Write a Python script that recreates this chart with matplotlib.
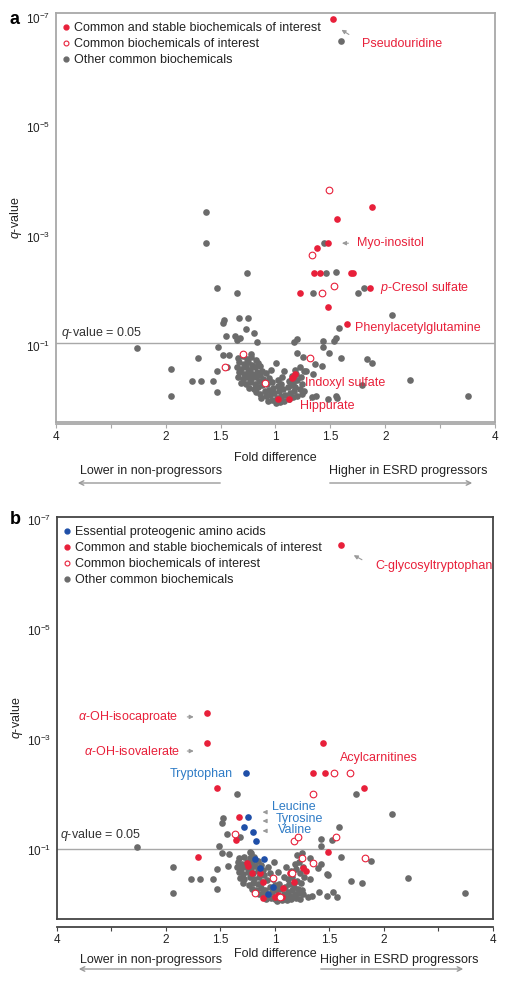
import matplotlib
matplotlib.use("Agg")
import matplotlib.pyplot as plt
from matplotlib.lines import Line2D

plt.rcParams['font.family'] = ['Liberation Sans', 'DejaVu Sans']
plt.rcParams['mathtext.fontset'] = 'custom'
plt.rcParams['mathtext.rm'] = 'Liberation Sans'
plt.rcParams['mathtext.it'] = 'Liberation Sans:italic'

# --------------------------------------------------
# DATA  (x = log2 fold difference, y = -log10 q-value)
# --------------------------------------------------

x_ticks = [-2, -1.5, -1, -0.5, 0, 0.5, 1, 1.5, 2]
x_ticklabels = ['4', '', '2', '1.5', '1', '1.5', '2', '', '4']
y_ticks = [1, 3, 5, 7]
y_ticklabels = [r'$10^{-1}$', r'$10^{-3}$', r'$10^{-5}$', r'$10^{-7}$']

# panel a
a_red_x = [0.52, 0.88, 0.56, 0.48, 0.38, 0.35, 0.41, 0.69, 0.71, 0.22, 0.86, 0.48, 0.65, 0.16, 0.18, 0.15, 0.02, 0.12]
a_red_y = [6.98, 3.54, 3.32, 2.88, 2.79, 2.33, 2.33, 2.33, 2.33, 1.97, 2.06, 1.71, 1.40, 0.43, 0.49, 0.41, 0.03, 0.03]

a_open_x = [0.49, 0.33, 0.53, 0.42, -0.30, 0.31, -0.46, -0.10]
a_open_y = [3.85, 2.66, 2.10, 1.97, 0.85, 0.78, 0.62, 0.32]

a_gray = [
    (0.60, 6.58), (-0.63, 3.45), (-0.63, 2.88), (0.44, 2.88), (-0.26, 2.33), (0.46, 2.33),
    (0.55, 2.35), (-0.53, 2.06), (-0.35, 1.97), (0.34, 1.97), (0.81, 2.06), (0.75, 1.97),
    (1.06, 1.57), (0.58, 1.33),
    (-0.33, 1.51), (-0.25, 1.51), (-0.47, 1.48), (-0.48, 1.42), (-0.27, 1.31), (-0.20, 1.24),
    (-0.45, 1.18), (-0.37, 1.18), (-0.35, 1.11), (-0.32, 1.15), (-0.17, 1.07),
    (0.20, 1.13), (0.17, 1.07), (0.43, 1.09), (0.55, 1.15), (0.53, 1.09),
    (-0.52, 0.98), (-0.71, 0.78), (-0.48, 0.84), (-0.42, 0.84), (-0.22, 0.85), (-0.95, 0.58),
    (-0.53, 0.54), (-0.44, 0.62), (-0.76, 0.36), (-0.68, 0.36), (-0.57, 0.36), (-0.53, 0.16),
    (-0.95, 0.09), (-1.26, 0.96),
    (0.20, 0.87), (0.25, 0.80), (0.43, 0.98), (0.49, 0.87), (0.60, 0.78), (0.36, 0.67),
    (0.08, 0.54), (0.28, 0.54), (0.34, 0.49), (0.56, 0.05), (0.48, 0.03), (0.42, 0.63),
    (0.83, 0.76), (0.88, 0.69), (1.23, 0.38), (1.75, 0.09), (0.79, 0.29), (0.55, 0.09),
    (0.37, 0.09), (0.33, 0.07), (0.00, 0.69),
]

a_cluster = [
    (-0.34, 0.78), (-0.30, 0.81), (-0.26, 0.77), (-0.22, 0.80), (-0.18, 0.74),
    (-0.33, 0.70), (-0.29, 0.67), (-0.25, 0.71), (-0.21, 0.66), (-0.16, 0.69),
    (-0.35, 0.61), (-0.31, 0.58), (-0.27, 0.62), (-0.23, 0.57), (-0.19, 0.61), (-0.14, 0.63),
    (-0.33, 0.52), (-0.29, 0.49), (-0.25, 0.53), (-0.21, 0.48), (-0.17, 0.52), (-0.12, 0.55),
    (-0.34, 0.44), (-0.30, 0.40), (-0.26, 0.44), (-0.22, 0.40), (-0.18, 0.44), (-0.14, 0.47), (-0.09, 0.50),
    (-0.31, 0.33), (-0.27, 0.30), (-0.23, 0.34), (-0.19, 0.31), (-0.15, 0.36), (-0.11, 0.39), (-0.06, 0.42),
    (-0.24, 0.24), (-0.20, 0.21), (-0.16, 0.25), (-0.12, 0.28), (-0.08, 0.31), (-0.03, 0.34),
    (-0.18, 0.15), (-0.14, 0.12), (-0.10, 0.17), (-0.06, 0.20), (-0.02, 0.24), (0.02, 0.27),
    (-0.13, 0.05), (-0.09, 0.08), (-0.05, 0.11), (-0.01, 0.14), (0.03, 0.17), (0.07, 0.21), (0.11, 0.25),
    (-0.07, -0.01), (-0.03, 0.02), (0.01, 0.05), (0.05, 0.08), (0.09, 0.11), (0.13, 0.14), (0.17, 0.18),
    (0.00, -0.04), (0.04, -0.02), (0.08, 0.00), (0.12, 0.03), (0.16, 0.06), (0.20, 0.09), (0.24, 0.12),
    (0.14, 0.29), (0.18, 0.25), (0.22, 0.21), (0.26, 0.17),
    (0.12, 0.36), (0.16, 0.33), (0.20, 0.38), (0.24, 0.30),
    (0.15, 0.45), (0.19, 0.49), (0.23, 0.43),
    (0.18, 0.57), (0.22, 0.61), (0.26, 0.55),
    (0.02, 0.38), (0.06, 0.44), (-0.04, 0.56), (0.05, 0.31),
]

# panel b
b_red_x = [0.61, -0.62, -0.62, 0.44, 0.35, 0.46, -0.53, 0.82, -0.33, -0.36, 0.49, -0.71,
           -0.26, -0.25, -0.21, -0.11, -0.14, 0.07, 0.03, -0.11, 0.14, 0.17, 0.26, 0.28, 0.00, 0.06]
b_red_y = [6.55, 3.49, 2.95, 2.95, 2.40, 2.40, 2.13, 2.13, 1.60, 1.18, 0.96, 0.87,
           0.76, 0.71, 0.58, 0.42, 0.58, 0.31, 0.18, 0.13, 0.58, 0.42, 0.67, 0.62, 0.15, 0.15]

b_open_x = [0.54, 0.69, 0.35, -0.37, 0.17, 0.21, 0.56, 0.83, 0.25, 0.35, -0.18, -0.02, 0.16, 0.05]
b_open_y = [2.40, 2.40, 2.02, 1.29, 1.16, 1.24, 1.24, 0.85, 0.85, 0.76, 0.22, 0.49, 0.58, 0.15]

b_blue_x = [-0.27, -0.25, -0.28, -0.20, -0.17, -0.18, -0.10, -0.14, -0.02, -0.06]
b_blue_y = [2.40, 1.60, 1.42, 1.33, 1.16, 0.84, 0.84, 0.67, 0.33, 0.20]

b_gray = [
    (-1.27, 1.05), (-0.94, 0.69), (-0.94, 0.22), (-0.77, 0.47), (-0.69, 0.47), (-0.57, 0.47),
    (-0.53, 0.29), (-0.53, 0.65), (-0.43, 0.71), (-0.51, 1.07), (-0.49, 0.95), (-0.42, 0.93),
    (-0.48, 1.58), (-0.49, 1.49), (-0.44, 1.29), (-0.32, 1.24), (-0.35, 2.02), (-0.23, 0.96),
    (0.74, 2.02), (1.07, 1.65), (0.59, 1.42), (0.52, 1.18), (0.42, 1.20), (0.42, 1.07),
    (0.61, 0.87), (0.88, 0.80), (1.22, 0.49), (1.74, 0.22), (0.70, 0.44), (0.80, 0.40),
    (0.49, 0.55), (0.42, 0.75), (0.32, 0.85), (0.20, 0.91), (0.25, 0.95), (0.53, 0.24),
    (0.57, 0.15), (0.48, 0.16), (0.40, 0.24), (0.48, 0.56), (0.39, 0.67), (0.32, 0.47),
    (-0.01, 0.78), (-0.22, 0.95),
]

b_cluster = [
    (-0.33, 0.86), (-0.28, 0.88), (-0.23, 0.85), (-0.19, 0.87),
    (-0.34, 0.78), (-0.30, 0.75), (-0.26, 0.79), (-0.21, 0.76), (-0.16, 0.80),
    (-0.35, 0.69), (-0.31, 0.66), (-0.27, 0.70), (-0.22, 0.67), (-0.18, 0.71), (-0.13, 0.73),
    (-0.33, 0.60), (-0.29, 0.57), (-0.25, 0.61), (-0.20, 0.58), (-0.16, 0.62), (-0.11, 0.64),
    (-0.32, 0.50), (-0.28, 0.47), (-0.23, 0.51), (-0.19, 0.48), (-0.15, 0.52), (-0.10, 0.55), (-0.05, 0.58),
    (-0.29, 0.40), (-0.24, 0.37), (-0.20, 0.41), (-0.16, 0.38), (-0.12, 0.42), (-0.07, 0.45), (-0.02, 0.48),
    (-0.21, 0.30), (-0.17, 0.27), (-0.13, 0.31), (-0.09, 0.28), (-0.05, 0.33), (0.00, 0.36), (0.04, 0.39),
    (-0.15, 0.20), (-0.11, 0.22), (-0.07, 0.19), (-0.03, 0.24), (0.01, 0.27), (0.05, 0.30), (0.09, 0.34),
    (-0.08, 0.12), (-0.04, 0.14), (0.00, 0.11), (0.04, 0.16), (0.08, 0.20), (0.12, 0.24), (0.16, 0.28),
    (0.02, 0.08), (0.06, 0.10), (0.10, 0.13), (0.14, 0.16), (0.18, 0.20), (0.22, 0.23), (0.26, 0.21),
    (0.11, 0.09), (0.15, 0.11), (0.19, 0.14), (0.23, 0.12), (0.30, 0.15), (0.34, 0.16),
    (0.13, 0.38), (0.17, 0.34), (0.21, 0.30), (0.25, 0.27),
    (0.12, 0.47), (0.16, 0.51), (0.20, 0.44), (0.24, 0.40),
    (0.15, 0.62), (0.19, 0.66), (0.23, 0.58), (0.27, 0.52),
    (0.18, 0.74), (0.22, 0.78), (0.26, 0.70),
    (0.08, 0.52), (0.03, 0.60), (-0.06, 0.70), (0.10, 0.70),
]

# --------------------------------------------------
# STYLE
# --------------------------------------------------

RED = '#e8203a'
GRAY = '#6b6b6b'
BLUE = '#1f4fa8'
BLUE_TXT = '#2f7cc6'
ARROW = '#9a9a9a'
TXT = '#222222'
FS = 9
MS = 23

W, H = 509, 985
fig = plt.figure(figsize=(W / 100, H / 100), dpi=100)


def fx(px):
    return px / W


def fy(py):
    return 1 - py / H


def setup(ax, ylim, frame_color, offset):
    ax.set_xlim(-2, 2)
    ax.set_ylim(*ylim)
    for s in ax.spines.values():
        s.set_color(frame_color)
        s.set_linewidth(1.3)
    ax.tick_params(axis='x', bottom=False, labelbottom=False)
    ax.set_yticks(y_ticks)
    ax.set_yticklabels(y_ticklabels)
    ax.tick_params(axis='y', length=0, pad=4, labelsize=8.5, colors=TXT)
    sec = ax.secondary_xaxis(offset)
    sec.set_xticks(x_ticks)
    sec.set_xticklabels(x_ticklabels)
    sec.spines['bottom'].set_color(frame_color)
    sec.spines['bottom'].set_linewidth(1.3)
    sec.tick_params(length=3, color=frame_color, labelsize=8.5, pad=2, labelcolor=TXT)
    ax.set_ylabel(r'$q$-value', fontsize=FS, color=TXT)
    ax.yaxis.set_label_coords(-0.073, 0.5)


def scatter_groups(ax, gray, red_x, red_y, open_x, open_y):
    ax.scatter([p[0] for p in gray], [p[1] for p in gray], s=MS, color=GRAY, lw=0, zorder=2)
    ax.scatter(red_x, red_y, s=MS, color=RED, lw=0, zorder=3)
    ax.scatter(open_x, open_y, s=MS, facecolor='white', edgecolor=RED, lw=0.8, zorder=3)


def arrow(ax, x0, y0, x1, y1):
    ax.annotate('', xy=(x1, y1), xytext=(x0, y0),
                arrowprops=dict(arrowstyle='-|>', color=ARROW, lw=0.8, mutation_scale=6))


def bottom_labels(ax_cx, y_fold, y_lab, lower_cx, higher_cx, y_arr, left_arr, right_arr):
    fig.text(fx(ax_cx), fy(y_fold), 'Fold difference', ha='center', va='center', fontsize=FS, color=TXT)
    fig.text(fx(lower_cx), fy(y_lab), 'Lower in non-progressors', ha='center', va='center', fontsize=FS, color=TXT)
    fig.text(fx(higher_cx), fy(y_lab), 'Higher in ESRD progressors', ha='center', va='center', fontsize=FS, color=TXT)
    for (a, b) in [left_arr, right_arr]:
        fig.add_artist(plt.matplotlib.patches.FancyArrowPatch(
            (fx(a), fy(y_arr)), (fx(b), fy(y_arr)), transform=fig.transFigure,
            arrowstyle='->', color=ARROW, lw=1, mutation_scale=8))


# --------------------------------------------------
# PANEL A
# --------------------------------------------------

ax_a = fig.add_axes([fx(56), fy(422), fx(495) - fx(56), (422 - 13) / H])
setup(ax_a, (-0.39, 7.09), '#a8a8a8', -0.006)
ax_a.axhline(1.05, color='#a8a8a8', lw=1, zorder=1)
scatter_groups(ax_a, a_gray + a_cluster, a_red_x, a_red_y, a_open_x, a_open_y)

handles = [Line2D([], [], marker='o', ls='', ms=3.5, color=RED, mec=RED),
           Line2D([], [], marker='o', ls='', ms=3.5, mfc='white', mec=RED, mew=0.8),
           Line2D([], [], marker='o', ls='', ms=3.5, color=GRAY, mec=GRAY)]
labels = ['Common and stable biochemicals of interest', 'Common biochemicals of interest',
          'Other common biochemicals']
ax_a.legend(handles, labels, loc='upper left', bbox_to_anchor=(0.016, 0.977), frameon=False,
            handlelength=0.5, handletextpad=0.35, labelspacing=0.32, fontsize=FS,
            borderaxespad=0, borderpad=0, labelcolor=TXT)

ax_a.text(-1.95, 1.24, r'$q$-value = 0.05', fontsize=FS, color='#333333', va='center')
ax_a.text(0.79, 6.52, 'Pseudouridine', fontsize=FS, color=RED, va='center')
arrow(ax_a, 0.69, 6.67, 0.58, 6.81)
ax_a.text(0.74, 2.88, 'Myo-inositol', fontsize=FS, color=RED, va='center')
arrow(ax_a, 0.69, 2.88, 0.58, 2.88)
ax_a.text(0.95, 2.06, r'$p$-Cresol sulfate', fontsize=FS, color=RED, va='center')
ax_a.text(0.72, 1.33, 'Phenylacetylglutamine', fontsize=FS, color=RED, va='center')
ax_a.text(0.27, 0.32, 'Indoxyl sulfate', fontsize=FS, color=RED, va='center', zorder=4)
ax_a.text(0.22, -0.10, 'Hippurate', fontsize=FS, color=RED, va='center', zorder=4)

fig.text(fx(15), fy(20), 'a', fontsize=13, fontweight='bold', ha='center', va='center')
bottom_labels(275, 458, 471, 151, 408, 483, (223, 75), (327, 475))

# --------------------------------------------------
# PANEL B
# --------------------------------------------------

ax_b = fig.add_axes([fx(57), fy(919), fx(493) - fx(57), (919 - 517) / H])
setup(ax_b, (-0.25, 7.05), '#444444', -0.02)
ax_b.axhline(1.02, color='#a8a8a8', lw=1, zorder=1)
scatter_groups(ax_b, b_gray + b_cluster, b_red_x, b_red_y, b_open_x, b_open_y)
ax_b.scatter(b_blue_x, b_blue_y, s=MS, color=BLUE, lw=0, zorder=4)

handles_b = [Line2D([], [], marker='o', ls='', ms=3.5, color=BLUE, mec=BLUE)] + handles
labels_b = ['Essential proteogenic amino acids'] + labels
ax_b.legend(handles_b, labels_b, loc='upper left', bbox_to_anchor=(0.016, 0.977), frameon=False,
            handlelength=0.5, handletextpad=0.35, labelspacing=0.32, fontsize=FS,
            borderaxespad=0, borderpad=0, labelcolor=TXT)

ax_b.text(-1.97, 1.27, r'$q$-value = 0.05', fontsize=FS, color='#333333', va='center')
ax_b.text(0.92, 6.16, 'C-glycosyltryptophan', fontsize=FS, color=RED, va='center')
arrow(ax_b, 0.82, 6.25, 0.70, 6.38)
ax_b.text(-0.89, 3.42, r'$\alpha$-OH-isocaproate', fontsize=FS, color=RED, va='center', ha='right')
arrow(ax_b, -0.83, 3.42, -0.72, 3.42)
ax_b.text(-0.87, 2.80, r'$\alpha$-OH-isovalerate', fontsize=FS, color=RED, va='center', ha='right')
arrow(ax_b, -0.83, 2.80, -0.72, 2.80)
ax_b.text(0.60, 2.67, 'Acylcarnitines', fontsize=FS, color=RED, va='center')
ax_b.text(-0.39, 2.38, 'Tryptophan', fontsize=FS, color=BLUE_TXT, va='center', ha='right')
ax_b.text(-0.03, 1.78, 'Leucine', fontsize=FS, color=BLUE_TXT, va='center')
arrow(ax_b, -0.06, 1.69, -0.14, 1.69)
ax_b.text(0.01, 1.56, 'Tyrosine', fontsize=FS, color=BLUE_TXT, va='center')
arrow(ax_b, -0.06, 1.53, -0.14, 1.53)
ax_b.text(0.03, 1.36, 'Valine', fontsize=FS, color=BLUE_TXT, va='center')
arrow(ax_b, -0.06, 1.35, -0.14, 1.35)

fig.text(fx(15), fy(520), 'b', fontsize=13, fontweight='bold', ha='center', va='center')
bottom_labels(275, 954, 960, 151, 399, 969, (223, 76), (318, 466))

fig.savefig('out.png', dpi=100)
